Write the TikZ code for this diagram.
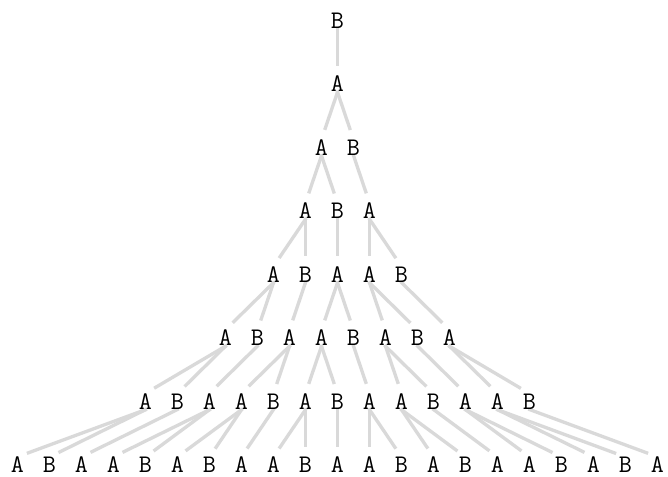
\documentclass[tikz,border=0pt]{standalone}
\usepackage{fontspec}
\usetikzlibrary{backgrounds}
\definecolor{edgegray}{HTML}{D9D9D9}
\tikzset{
  sym/.style={font=\ttfamily\fontsize{19}{19}\selectfont, inner sep=0pt, text=black},
  link/.style={draw=edgegray, line width=2.5pt, shorten >=7.5pt, shorten <=-1pt},
}
\newcommand\symrow[3]{%
  \foreach \c [count=\i from 0] in {#3}
    \node[sym] (n#1-\i) at ({337.5+(\i-(#2-1)/2)*32},{20.5+63.5*#1}) {\c};}
\newcommand\linkrow[3]{%
  \foreach \p [count=\j from 0] in {#3}
    \draw[link] (n#1-\p.south) -- (n#2-\j.north);}
\begin{document}
\begin{tikzpicture}[x=0.75pt,y=-0.75pt]
\useasboundingbox (0,0) rectangle (668,477);
\symrow{0}{1}{B}
\symrow{1}{1}{A}
\symrow{2}{2}{A,B}
\symrow{3}{3}{A,B,A}
\symrow{4}{5}{A,B,A,A,B}
\symrow{5}{8}{A,B,A,A,B,A,B,A}
\symrow{6}{13}{A,B,A,A,B,A,B,A,A,B,A,A,B}
\symrow{7}{21}{A,B,A,A,B,A,B,A,A,B,A,A,B,A,B,A,A,B,A,B,A}
\begin{pgfonlayer}{background}
\linkrow{0}{1}{0}
\linkrow{1}{2}{0,0}
\linkrow{2}{3}{0,0,1}
\linkrow{3}{4}{0,0,1,2,2}
\linkrow{4}{5}{0,0,1,2,2,3,3,4}
\linkrow{5}{6}{0,0,1,2,2,3,3,4,5,5,6,7,7}
\linkrow{6}{7}{0,0,1,2,2,3,3,4,5,5,6,7,7,8,8,9,10,10,11,11,12}
\end{pgfonlayer}
\end{tikzpicture}
\end{document}
